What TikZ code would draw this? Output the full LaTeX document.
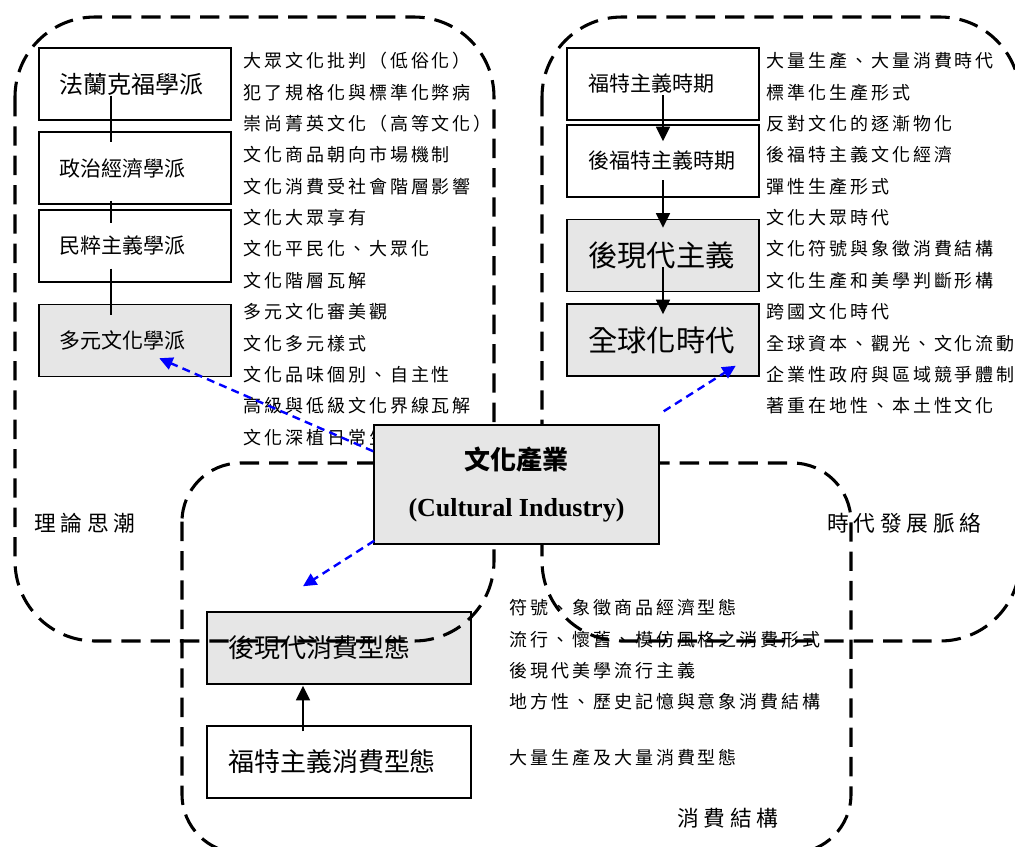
\documentclass[tikz,border=0pt]{standalone}
\usepackage{fontspec}
\usetikzlibrary{arrows.meta,calc}
\newfontfamily\cjk{Noto Sans CJK TC}
\newfontfamily\cjklist{Noto Sans CJK TC}[LetterSpace=16.5]
\newfontfamily\cjklabel{Noto Sans CJK TC}[LetterSpace=22]
\newfontfamily\serifb{Liberation Serif}
\definecolor{boxgray}{HTML}{E6E6E6}
\tikzset{
  stage/.style={draw=black, line width=1.1pt, minimum height=54pt,
    inner xsep=15.75pt, inner ysep=0pt, align=left, text width=112.5pt},
  widestage/.style={stage, text width=166.5pt},
  shaded/.style={fill=boxgray},
  listtxt/.style={anchor=west, inner sep=0pt,
    font=\cjklist\fontsize{13.5pt}{15pt}\selectfont},
  zonelabel/.style={anchor=west, inner sep=0pt,
    font=\cjklabel\fontsize{16.3pt}{18pt}\selectfont},
  zone/.style={line width=2.3pt, dash pattern=on 14.5pt off 7.5pt, rounded corners=60pt},
  link/.style={line width=1.2pt},
  flow/.style={line width=1.2pt, -{Triangle[length=11pt,width=10.5pt]}},
  blueflow/.style={draw=blue, line width=1.8pt, dash pattern=on 6pt off 4pt,
    -{Triangle[length=10pt,width=9.5pt]}}
}
\begin{document}
\begin{tikzpicture}[x=0.75pt,y=-0.75pt]
\useasboundingbox (0,0) rectangle (1015,847);
\clip (0,0) rectangle (1015,847);

% theory column
\node[stage, font=\cjk\fontsize{18pt}{20pt}\selectfont] (d1) at (135,84) {法蘭克福學派};
\node[stage, font=\cjk\fontsize{15.75pt}{18pt}\selectfont] (d2) at (135,168) {政治經濟學派};
\node[stage, font=\cjk\fontsize{15.75pt}{18pt}\selectfont] (d3) at (135,246) {民粹主義學派};
\node[stage, shaded, font=\cjk\fontsize{15.75pt}{18pt}\selectfont] (d4) at (135,340.5) {多元文化學派};
\draw[link] ($(d1.south)+(-24,-25)$) -- ($(d2.north)+(-24,11)$);
\draw[link] ($(d2.south)+(-24,-4)$) -- ($(d3.north)+(-24,14)$);
\draw[link] ($(d3.south)+(-24,-14)$) -- ($(d4.north)+(-24,11)$);

\foreach \t [count=\i] in {大眾文化批判（低俗化）,犯了規格化與標準化弊病,崇尚菁英文化（高等文化）,
  文化商品朝向市場機制,文化消費受社會階層影響,文化大眾享有,文化平民化、大眾化,文化階層瓦解,
  多元文化審美觀,文化多元樣式,文化品味個別、自主性,高級與低級文化界線瓦解,文化深植日常生活}
  \node[listtxt] (lt\i) at (243,{61+31.35*(\i-1)}) {\t};

% era column
\node[stage, font=\cjk\fontsize{15.75pt}{18pt}\selectfont] (g1) at (663,84) {福特主義時期};
\node[stage, font=\cjk\fontsize{15.75pt}{18pt}\selectfont] (g2) at (663,161) {後福特主義時期};
\node[stage, shaded, font=\cjk\fontsize{22pt}{24pt}\selectfont] (g3) at (663,255.5) {後現代主義};
\node[stage, shaded, font=\cjk\fontsize{22pt}{24pt}\selectfont] (g4) at (663,340) {全球化時代};
\draw[flow] ($(g1.center)+(0,11)$) -- ($(g2.north)+(0,17)$);
\draw[flow] ($(g2.center)+(0,19)$) -- ($(g3.north)+(0,9)$);
\draw[flow] ($(g3.center)+(0,11.5)$) -- ($(g4.north)+(0,11)$);

\foreach \t [count=\i] in {大量生產、大量消費時代,標準化生產形式,反對文化的逐漸物化,後福特主義文化經濟,
  彈性生產形式,文化大眾時代,文化符號與象徵消費結構,文化生產和美學判斷形構,跨國文化時代,
  全球資本、觀光、文化流動,企業性政府與區域競爭體制,著重在地性、本土性文化}
  \node[listtxt] (rt\i) at (766,{61+31.35*(\i-1)}) {\t};

% consumption patterns
\node[widestage, shaded, font=\cjk\fontsize{19.5pt}{22pt}\selectfont] (p1) at (339,648) {後現代消費型態};
\node[widestage, font=\cjk\fontsize{19.5pt}{22pt}\selectfont] (p2) at (339,762) {福特主義消費型態};
\draw[flow] ($(p2.north)+(-36,6)$) -- ($(p1.south)+(-36,1)$);

\node[listtxt] (bt1) at (509,608) {符號、象徵商品經濟型態};
\node[listtxt] (bt2) at (509,640) {流行、懷舊、模仿風格之消費形式};
\node[listtxt] (bt3) at (509,671) {後現代美學流行主義};
\node[listtxt] (bt4) at (509,702) {地方性、歷史記憶與意象消費結構};
\node[listtxt] (bt5) at (509,758) {大量生產及大量消費型態};

% zone labels
\node[zonelabel] (zl1) at (34,523) {理論思潮};
\node[zonelabel] (zl2) at (827,523) {時代發展脈絡};
\node[zonelabel] (zl3) at (677,818) {消費結構};

% dashed zones
\draw[zone] (15,17) rectangle (494,641);
\draw[zone] (542,17) rectangle (1020,641);
\draw[zone, rounded corners=44pt] (182,463) rectangle (851,853);

% core
\node[draw=black, line width=1.1pt, fill=boxgray, minimum width=213.75pt, minimum height=89.25pt,
  align=center, inner sep=0pt, font=\fontsize{19.5pt}{35.25pt}\selectfont] (core) at (516.5,484.5)
  {{\cjk\bfseries 文化產業}\\{\serifb\bfseries (Cultural Industry)}};

\draw[blueflow] ($(core.north west)+(0,27)$) -- ($(d4.south west)+(121,-19)$);
\draw[blueflow] ($(core.north east)+(4,-13)$) -- ($(g4.south east)+(-24,-11)$);
\draw[blueflow] ($(core.south west)+(1,-4)$) -- ($(p1.north)+(-36,-25)$);
\end{tikzpicture}
\end{document}
